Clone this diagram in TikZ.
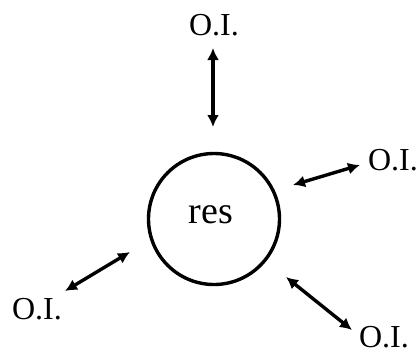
\documentclass[tikz,border=0pt]{standalone}
\usepackage{fontspec}
\setmainfont{Liberation Serif}
\usetikzlibrary{arrows.meta}

\begin{document}
\begin{tikzpicture}[x=1pt, y=-1pt,
    label-oi/.style={anchor=base, font=\fontsize{32}{36}\selectfont},
    link/.style={{Latex[length=12pt,width=12pt]}-{Latex[length=12pt,width=12pt]}, line width=3.4pt}]
    \useasboundingbox (0,0) rectangle (419,354);
    \node[draw, circle, line width=3.4pt, minimum size=131pt, inner sep=0pt] (res) at (214,219) {};
    \node[anchor=base, font=\fontsize{38}{42}\selectfont] (res-text) at (211,223) {res};
    \node[label-oi] (oi-top) at (214,35) {O.I.};
    \node[label-oi] (oi-right) at (393,170) {O.I.};
    \node[label-oi] (oi-left) at (37,319) {O.I.};
    \node[label-oi] (oi-low) at (384,347) {O.I.};
    % free ends of the arrows
    \coordinate (top-a) at (213,48);   \coordinate (top-b) at (213,127);
    \coordinate (right-a) at (293,185); \coordinate (right-b) at (360,165);
    \coordinate (left-a) at (65,291);  \coordinate (left-b) at (130,252);
    \coordinate (low-a) at (286,277);  \coordinate (low-b) at (352,330);
    \draw[link] (top-a) -- (top-b);
    \draw[link] (right-a) -- (right-b);
    \draw[link] (left-a) -- (left-b);
    \draw[link] (low-a) -- (low-b);
\end{tikzpicture}
\end{document}
